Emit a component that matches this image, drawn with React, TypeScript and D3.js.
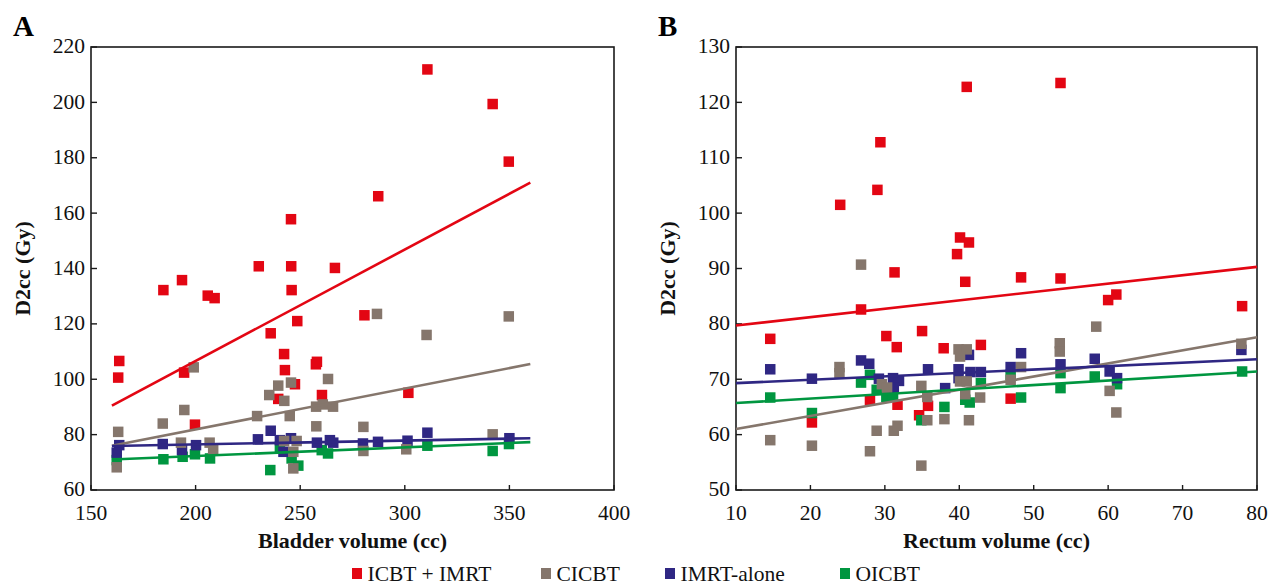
import React from "react";
import * as d3 from "d3";

// ---------- Data ----------
const seriesNames = ["ICBT + IMRT", "CICBT", "IMRT-alone", "OICBT"];
const seriesColors = ["#e30613", "#85766c", "#2f2783", "#009640"];

// Panel A: bladder volume (cc) vs D2cc (Gy)
const bladderIcbtImrt: [number, number][] = [
  [163.5, 106.6], [163, 100.6], [184.6, 132.2], [193.5, 135.8], [194.5, 102.4], [199.7, 83.6],
  [205.8, 130.2], [209.1, 129.3], [230.2, 140.8], [235.9, 116.6], [239.5, 92.9], [242.3, 109.1],
  [242.7, 103.3], [245.6, 157.8], [245.7, 140.8], [245.9, 132.2], [247.5, 98.2], [248.6, 121],
  [257.5, 105.4], [258, 106.3], [260.4, 94.3], [266.6, 140.2], [280.7, 123.1], [287.3, 166.1],
  [301.7, 95.1], [310.8, 211.9], [342, 199.4], [349.7, 178.6],
];
const bladderCicbt: [number, number][] = [
  [163, 81], [162.3, 68.2], [184.3, 84], [194.6, 88.9], [199.1, 104.3], [193, 77.1],
  [206.7, 77.1], [208.4, 74.7], [229.4, 86.7], [239.5, 97.7], [235.2, 94.3], [242.4, 92.2],
  [245.6, 98.8], [245, 86.7], [242.3, 77.7], [248.3, 77.7], [246.7, 73.8], [246.7, 67.8],
  [263.3, 100.1], [257.6, 90.1], [260.8, 90.9], [265.7, 90.1], [257.7, 83], [280.2, 82.8],
  [286.7, 123.6], [310.4, 116], [349.7, 122.7], [280.2, 74.1], [300.7, 74.7], [342, 80.1],
];
const bladderImrtAlone: [number, number][] = [
  [163.5, 76.2], [162.3, 73.5], [184.3, 76.6], [193.5, 74.4], [200.2, 76.2], [229.8, 78.3],
  [235.9, 81.4], [240.3, 78], [245.6, 78.7], [242, 73.8], [258, 77.1], [264.2, 78],
  [265.8, 77.1], [280, 76.8], [287.2, 77.4], [301.3, 77.8], [310.8, 80.7], [350, 78.7],
];
const bladderOicbt: [number, number][] = [
  [162.3, 70.8], [184.6, 71.1], [193.8, 72], [199.7, 72.9], [206.9, 71.4], [235.7, 67.2],
  [240.3, 75.6], [245.9, 71.4], [249.1, 68.8], [260.3, 74.4], [263.3, 73.2], [310.8, 76],
  [342, 74.1], [349.8, 76.6],
];
// fitted trend lines, panel A: [x0, y0], [x1, y1]
const bladderTrendIcbtImrt: [number, number][] = [[160, 90.5], [360, 171]];
const bladderTrendCicbt: [number, number][] = [[160, 76], [360, 105.5]];
const bladderTrendImrtAlone: [number, number][] = [[160, 75.9], [360, 78.7]];
const bladderTrendOicbt: [number, number][] = [[160, 71], [360, 77.3]];

// Panel B: rectum volume (cc) vs D2cc (Gy)
const rectumIcbtImrt: [number, number][] = [
  [41, 122.8], [53.6, 123.5], [29.4, 112.8], [29, 104.2], [24, 101.5], [40.1, 95.6],
  [41.3, 94.7], [39.7, 92.6], [31.3, 89.3], [40.8, 87.6], [48.3, 88.4], [53.6, 88.2],
  [26.8, 82.6], [14.6, 77.3], [30.2, 77.8], [31.6, 75.8], [35, 78.7], [37.9, 75.6],
  [42.9, 76.2], [28, 66.3], [31.7, 65.4], [35.8, 65.2], [34.6, 63.5], [20.2, 62.2],
  [60, 84.3], [61.1, 85.3], [78, 83.2], [46.9, 66.5],
];
const rectumCicbt: [number, number][] = [
  [26.8, 90.7], [23.9, 72.2], [23.9, 71.1], [14.6, 59], [20.2, 58], [28, 57],
  [28.9, 60.7], [31.2, 60.7], [31.7, 61.6], [34.9, 54.4], [34.9, 68.8], [35.7, 62.6],
  [35.7, 66.8], [29.6, 69.1], [30.3, 68.5], [38, 62.8], [39.9, 75.4], [41, 75.4],
  [40.1, 74.1], [40.1, 69.6], [41, 69.6], [40.8, 67.3], [41.3, 62.6], [42.8, 66.7],
  [58.4, 79.5], [53.5, 76.5], [53.5, 75], [48.3, 72.2], [46.9, 69.9], [60.2, 67.9],
  [61.1, 64], [77.9, 76.4],
];
const rectumImrtAlone: [number, number][] = [
  [14.6, 71.8], [20.2, 70.1], [26.8, 73.4], [27.9, 72.8], [29.2, 70.1], [31.1, 70.2],
  [31.9, 69.7], [31.2, 68.5], [35.8, 71.8], [38.1, 68.4], [39.9, 71.8], [39.9, 70.2],
  [41.3, 74.4], [41.5, 71.3], [42.9, 71.3], [48.3, 74.7], [46.9, 72.2], [53.6, 72.7],
  [58.2, 73.7], [60.2, 71.4], [61.2, 70.2], [77.9, 75.3],
];
const rectumOicbt: [number, number][] = [
  [14.6, 66.7], [20.2, 63.9], [26.8, 69.4], [28, 70.8], [28.9, 68.1], [30.2, 66.8],
  [31.1, 67], [34.9, 62.6], [38, 65], [40.8, 66.3], [41.4, 65.8], [42.9, 69.3],
  [46.9, 70.8], [48.3, 66.7], [53.6, 68.4], [53.6, 71.1], [58.2, 70.5], [61.2, 69.1],
  [78, 71.4],
];
const rectumTrendIcbtImrt: [number, number][] = [[10, 79.7], [80, 90.3]];
const rectumTrendCicbt: [number, number][] = [[10, 61], [80, 77.6]];
const rectumTrendImrtAlone: [number, number][] = [[10, 69.3], [80, 73.6]];
const rectumTrendOicbt: [number, number][] = [[10, 65.7], [80, 71.4]];

const bladderXTicks = [150, 200, 250, 300, 350, 400];
const bladderYTicks = [60, 80, 100, 120, 140, 160, 180, 200, 220];
const rectumXTicks = [10, 20, 30, 40, 50, 60, 70, 80];
const rectumYTicks = [50, 60, 70, 80, 90, 100, 110, 120, 130];

// ---------- Layout ----------
const W = 1281;
const H = 588;
const FONT = "'Liberation Serif', 'DejaVu Serif', serif";
const MS = 10.5; // marker size
const FS = 21.5;

type PanelProps = {
  letter: string;
  left: number;
  right: number;
  top: number;
  bottom: number;
  xDomain: [number, number];
  yDomain: [number, number];
  xTicks: number[];
  yTicks: number[];
  xTitle: string;
  points: [number, number][][];
  trends: [number, number][][];
};

const drawOrder = [0, 3, 2, 1];

function Panel(p: PanelProps) {
  const x = d3.scaleLinear().domain(p.xDomain).range([p.left, p.right]);
  const y = d3.scaleLinear().domain(p.yDomain).range([p.bottom, p.top]);
  const line = d3
    .line<[number, number]>()
    .x((d) => x(d[0]))
    .y((d) => y(d[1]));
  return (
    <g>
      <text
        x={p.left - 78}
        y={36}
        fontFamily={FONT}
        fontWeight="bold"
        fontSize={29}
        fill="#000"
      >
        {p.letter}
      </text>
      <rect
        x={p.left}
        y={p.top}
        width={p.right - p.left}
        height={p.bottom - p.top}
        fill="#fff"
        stroke="#1a1a1a"
        strokeWidth={1.6}
      />
      {p.yTicks.map((t) => (
        <g key={"y" + t}>
          <line x1={p.left} x2={p.left + 6} y1={y(t)} y2={y(t)} stroke="#1a1a1a" strokeWidth={1.4} />
          <text
            x={p.left - 6}
            y={y(t)}
            dy="0.3em"
            textAnchor="end"
            fontFamily={FONT}
            fontSize={FS}
            fill="#111"
          >
            {t}
          </text>
        </g>
      ))}
      {p.xTicks.map((t) => (
        <g key={"x" + t}>
          <line x1={x(t)} x2={x(t)} y1={p.bottom} y2={p.bottom - 5} stroke="#1a1a1a" strokeWidth={1.4} />
          <text
            x={x(t)}
            y={p.bottom + 30}
            textAnchor="middle"
            fontFamily={FONT}
            fontSize={FS}
            fill="#111"
          >
            {t}
          </text>
        </g>
      ))}
      <text
        transform={`translate(${p.left - 69},${(p.top + p.bottom) / 2}) rotate(-90)`}
        textAnchor="middle"
        dy="0.35em"
        fontFamily={FONT}
        fontWeight="bold"
        fontSize={22}
        fill="#111"
      >
        D2cc (Gy)
      </text>
      <text
        x={(p.left + p.right) / 2}
        y={p.bottom + 58}
        textAnchor="middle"
        fontFamily={FONT}
        fontWeight="bold"
        fontSize={22}
        fill="#111"
      >
        {p.xTitle}
      </text>
      {drawOrder.map((si) => (
        <g key={"s" + si} fill={seriesColors[si]}>
          {p.points[si].map((d, i) => (
            <rect key={i} x={x(d[0]) - MS / 2} y={y(d[1]) - MS / 2} width={MS} height={MS} />
          ))}
        </g>
      ))}
      {[1, 2, 3, 0].map((si) => (
        <path
          key={"t" + si}
          d={line(p.trends[si]) || ""}
          stroke={seriesColors[si]}
          strokeWidth={2.6}
          fill="none"
        />
      ))}
    </g>
  );
}

function Legend() {
  const items = [
    { x: 352, label: seriesNames[0] },
    { x: 541, label: seriesNames[1] },
    { x: 665, label: seriesNames[2] },
    { x: 840, label: seriesNames[3] },
  ];
  return (
    <g>
      {items.map((it, i) => (
        <g key={i}>
          <rect x={it.x} y={568} width={10} height={11} fill={seriesColors[i]} />
          <text x={it.x + 15.5} y={581} fontFamily={FONT} fontSize={21.5} fill="#111">
            {it.label}
          </text>
        </g>
      ))}
    </g>
  );
}

export default function App() {
  return (
    <svg
      width={W}
      height={H}
      viewBox={`0 0 ${W} ${H}`}
      style={{ position: "absolute", left: 0, top: 0, background: "#fff" }}
    >
      <rect width={W} height={H} fill="#fff" />
      <Panel
        letter="A"
        left={91}
        right={614}
        top={47}
        bottom={490}
        xDomain={[150, 400]}
        yDomain={[60, 220]}
        xTicks={bladderXTicks}
        yTicks={bladderYTicks}
        xTitle="Bladder volume (cc)"
        points={[bladderIcbtImrt, bladderCicbt, bladderImrtAlone, bladderOicbt]}
        trends={[bladderTrendIcbtImrt, bladderTrendCicbt, bladderTrendImrtAlone, bladderTrendOicbt]}
      />
      <Panel
        letter="B"
        left={736}
        right={1257}
        top={47}
        bottom={490}
        xDomain={[10, 80]}
        yDomain={[50, 130]}
        xTicks={rectumXTicks}
        yTicks={rectumYTicks}
        xTitle="Rectum volume (cc)"
        points={[rectumIcbtImrt, rectumCicbt, rectumImrtAlone, rectumOicbt]}
        trends={[rectumTrendIcbtImrt, rectumTrendCicbt, rectumTrendImrtAlone, rectumTrendOicbt]}
      />
      <Legend />
    </svg>
  );
}
